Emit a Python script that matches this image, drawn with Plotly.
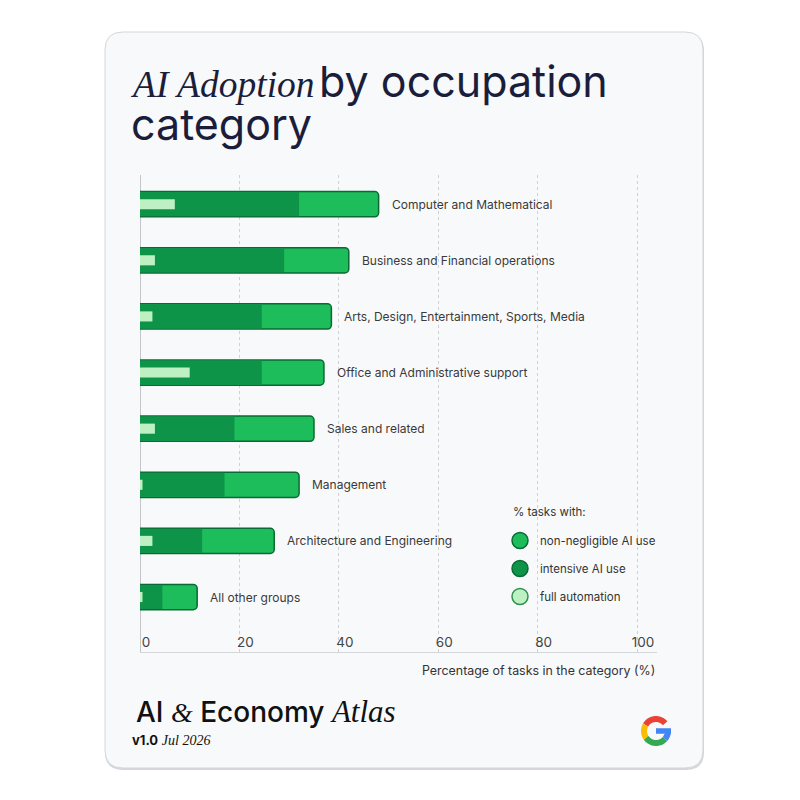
import math
import plotly.graph_objects as go

# ---------------- data ----------------
categories = [
    "Computer and Mathematical",
    "Business and Financial operations",
    "Arts, Design, Entertainment, Sports, Media",
    "Office and Administrative support",
    "Sales and related",
    "Management",
    "Architecture and Engineering",
    "All other groups",
]
non_negligible = [48, 42, 38.5, 37, 35, 32, 27, 11.5]
intensive = [32, 29, 24.5, 24.5, 19, 17, 12.5, 4.5]
full_automation = [7, 3, 2.5, 10, 3, 0.5, 2.5, 0.5]
x_ticks = [0, 20, 40, 60, 80, 100]

# ---------------- layout geometry ----------------
# page body has an 8px margin; figure is 792x792 so the screenshot coords = fig coords + 8
W, H = 792, 792
ML, MT = 132, 167
PW, PH = 517, 477
MR, MB = W - ML - PW, H - MT - PH


def X(px):  # screenshot pixel -> paper
    return (px - 140) / PW


def Y(py):
    return (652 - py) / PH


C_NON = "#1dbd5c"
C_INT = "#0d9448"
C_FULL = "#bdf1c4"
C_EDGE = "#0a6a33"
NAVY = "#1b1e3a"
SANS = "Inter, Open Sans, sans-serif"
SERIF = "Liberation Serif, DejaVu Serif, serif"

fig = go.Figure()

fig.add_trace(go.Bar(
    x=non_negligible, y=categories, orientation="h", width=0.45,
    marker=dict(color=C_NON, line=dict(color=C_EDGE, width=1.5), cornerradius=4),
    showlegend=False, hoverinfo="x+y", name="non-negligible AI use"))
fig.add_trace(go.Bar(
    x=intensive, y=categories, orientation="h", width=0.43,
    marker=dict(color=C_INT, line=dict(width=0)),
    showlegend=False, hoverinfo="x+y", name="intensive AI use"))
fig.add_trace(go.Bar(
    x=full_automation, y=categories, orientation="h", width=0.18,
    marker=dict(color=C_FULL, line=dict(width=0)),
    showlegend=False, hoverinfo="x+y", name="full automation"))

# legend entries (circles)
for name, col, edge in [("non-negligible AI use", C_NON, C_EDGE),
                        ("intensive AI use", C_INT, C_EDGE),
                        ("full automation", C_FULL, "#2f8f4f")]:
    fig.add_trace(go.Scatter(
        x=[None], y=[None], mode="markers", name=name, legendgroup=name,
        marker=dict(size=16, color=col, line=dict(color=edge, width=1.5))))

# category labels next to bar ends
annotations = []
for cat, v in zip(categories, non_negligible):
    annotations.append(dict(
        x=v, y=cat, xref="x", yref="y", text=cat, showarrow=False,
        xanchor="left", yanchor="middle", xshift=11,
        font=dict(family=SANS, size=12, color="#3a3a3a")))

# title
annotations.append(dict(
    x=X(128), y=Y(81), xref="paper", yref="paper", xanchor="left", yanchor="middle",
    showarrow=False,
    text=(f'<span style="font-family:{SERIF};font-size:37.5px"><i>AI Adoption</i></span>'
          '<span style="font-size:16px"> </span>by occupation'),
    font=dict(family=SANS, size=43, color=NAVY)))
annotations.append(dict(
    x=X(129), y=Y(124), xref="paper", yref="paper", xanchor="left", yanchor="middle",
    showarrow=False, text="category",
    font=dict(family=SANS, size=43, color=NAVY)))

# legend heading
annotations.append(dict(
    x=X(511), y=Y(512), xref="paper", yref="paper", xanchor="left", yanchor="middle",
    showarrow=False, text="% tasks with:",
    font=dict(family=SANS, size=11.5, color="#333333")))

# axis title
annotations.append(dict(
    x=X(657), y=Y(670), xref="paper", yref="paper", xanchor="right", yanchor="middle",
    showarrow=False, text="Percentage of tasks in the category (%)",
    font=dict(family=SANS, size=12.4, color="#333333")))

# footer
annotations.append(dict(
    x=X(134), y=Y(711), xref="paper", yref="paper", xanchor="left", yanchor="middle",
    showarrow=False,
    text=(f'AI <span style="font-family:{SERIF}"><i>&amp;</i></span> Economy '
          f'<span style="font-family:{SERIF};font-size:31px"><i>Atlas</i></span>'),
    font=dict(family=SANS, size=28, color="#111111", weight=500)))
annotations.append(dict(
    x=X(130), y=Y(740), xref="paper", yref="paper", xanchor="left", yanchor="middle",
    showarrow=False,
    text=f'<b>v1.0</b> <span style="font-family:{SERIF};font-size:14px"><i>Jul 2026</i></span>',
    font=dict(family=SANS, size=13, color="#111111")))

# ---------------- shapes: card + logo ----------------
shapes = []


def rounded_rect(x0, y0, x1, y1, r):
    pts = [
        f"M {X(x0 + r)},{Y(y0)}",
        f"L {X(x1 - r)},{Y(y0)}",
        f"Q {X(x1)},{Y(y0)} {X(x1)},{Y(y0 + r)}",
        f"L {X(x1)},{Y(y1 - r)}",
        f"Q {X(x1)},{Y(y1)} {X(x1 - r)},{Y(y1)}",
        f"L {X(x0 + r)},{Y(y1)}",
        f"Q {X(x0)},{Y(y1)} {X(x0)},{Y(y1 - r)}",
        f"L {X(x0)},{Y(y0 + r)}",
        f"Q {X(x0)},{Y(y0)} {X(x0 + r)},{Y(y0)}",
        "Z",
    ]
    return " ".join(pts)


shapes.append(dict(type="path", xref="paper", yref="paper", layer="below",
                   path=rounded_rect(105, 33, 704, 770, 18),
                   fillcolor="#d4d7dc", line=dict(width=0)))
shapes.append(dict(type="path", xref="paper", yref="paper", layer="below",
                   path=rounded_rect(105, 32, 703, 768, 18),
                   fillcolor="#f8f9fb", line=dict(color="#d3d6db", width=1)))


def arc(cx, cy, r, a0, a1, n=24):
    pts = []
    for i in range(n + 1):
        a = math.radians(a0 + (a1 - a0) * i / n)
        px = cx + r * math.cos(a)
        py = cy - r * math.sin(a)
        pts.append((X(px), Y(py)))
    return "M " + " L ".join(f"{a},{b}" for a, b in pts)


gcx, gcy, gr = 656, 731, 12
for a0, a1, col in [(40, 150, "#ea4335"), (150, 215, "#fbbc05"),
                    (215, 318, "#34a853"), (318, 362, "#4285f4")]:
    shapes.append(dict(type="path", xref="paper", yref="paper", layer="above",
                       path=arc(gcx, gcy, gr, a0, a1), line=dict(color=col, width=6)))
shapes.append(dict(type="line", xref="paper", yref="paper", layer="above",
                   x0=X(gcx), x1=X(gcx + gr + 3), y0=Y(gcy), y1=Y(gcy),
                   line=dict(color="#4285f4", width=5.5)))

fig.update_layout(
    width=W, height=H,
    margin=dict(l=ML, r=MR, t=MT, b=MB, pad=0),
    paper_bgcolor="white", plot_bgcolor="rgba(0,0,0,0)",
    barmode="overlay",
    annotations=annotations, shapes=shapes,
    showlegend=True,
    legend=dict(
        x=X(500), y=Y(526), xref="paper", yref="paper", xanchor="left", yanchor="top",
        bgcolor="rgba(0,0,0,0)", borderwidth=0,
        font=dict(family=SANS, size=11.5, color="#333333"),
        traceorder="grouped", tracegroupgap=9, itemsizing="trace",
    ),
    font=dict(family=SANS),
)

fig.update_xaxes(
    range=[0, 104], tickvals=x_ticks, ticktext=[str(t) for t in x_ticks],
    showgrid=True, gridcolor="#cfd1d4", griddash="dot", gridwidth=1,
    zeroline=True, zerolinecolor="#c4c6ca", zerolinewidth=1,
    showline=True, linecolor="#d4d6da", linewidth=1,
    ticks="", ticklabelposition="inside", ticklabelshift=6, ticklabelstandoff=2,
    tickfont=dict(family=SANS, size=13.5, color="#444444"),
    fixedrange=True,
)
fig.update_yaxes(
    range=[7.98, -0.52], showticklabels=False, showgrid=False, zeroline=False,
    ticks="", showline=False, fixedrange=True,
)

fig.write_html("out.html")
